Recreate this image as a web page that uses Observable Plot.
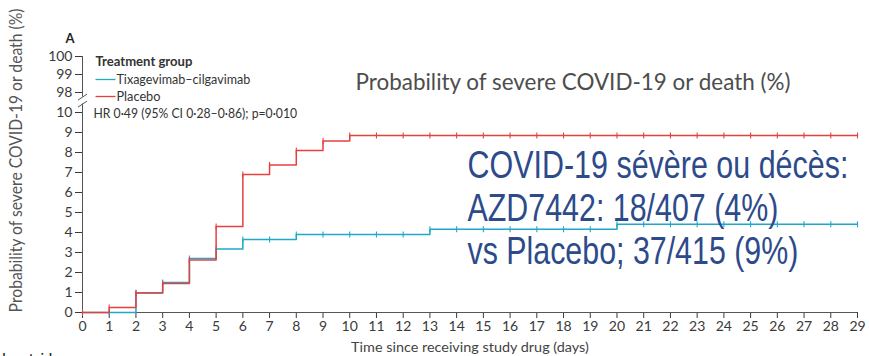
<!DOCTYPE html>
<html>
<head>
<meta charset="utf-8">
<script src="https://cdn.jsdelivr.net/npm/d3@7"></script>
<script src="https://cdn.jsdelivr.net/npm/@observablehq/plot@0.6"></script>
<style>
html, body { margin: 0; padding: 0; background: #fff; overflow: hidden; }
#chart svg { display: block; }
</style>
</head>
<body>
<div id="chart"></div>
<script>
// ---------------- data ----------------
const days = [0,1,2,3,4,5,6,7,8,9,10,11,12,13,14,15,16,17,18,19,20,21,22,23,24,25,26,27,28,29];
const tixagevimab = [0,0,0.99,1.50,2.70,3.18,3.65,3.65,3.90,3.90,3.90,3.90,3.90,4.16,4.16,4.16,4.16,4.16,4.16,4.16,4.41,4.41,4.41,4.41,4.41,4.41,4.41,4.41,4.41,4.41];
const placebo     = [0,0.25,0.97,1.45,2.63,4.30,6.90,7.38,8.10,8.58,8.85,8.85,8.85,8.85,8.85,8.85,8.85,8.85,8.85,8.85,8.85,8.85,8.85,8.85,8.85,8.85,8.85,8.85,8.85,8.85];
const groups = ["Tixagevimab–cilgavimab", "Placebo"];
const yLowerTicks = [0,1,2,3,4,5,6,7,8,9,10];
const yUpperTicks = [98,99,100];
const legendTitle = "Treatment group";
const hrText = "HR 0·49 (95% CI 0·28–0·86); p=0·010";
const panelLabel = "A";
const yTitle = "Probability of severe COVID-19 or death (%)";
const xTitle = "Time since receiving study drug (days)";
const overlayTitle = "Probability of severe COVID-19 or death (%)";
const noteLines = ["COVID-19 sévère ou décès:", "AZD7442: 18/407 (4%)", "vs Placebo; 37/415 (9%)"];
const atRisk = "Number at risk";

// ---------------- styling ----------------
const colors = {"Tixagevimab–cilgavimab": "#1fa8c9", "Placebo": "#e5413f"};
const axisColor = "#555";
const blueText = "#2d4a8a";

// broken y axis: values above the break (98–100) are placed just above 10
const yPos = v => v <= 10 ? v : 11.0 + (v - 98) * 0.9;
const yTicks = [...yLowerTicks, ...yUpperTicks].map(yPos);
const yLabels = [...yLowerTicks, ...yUpperTicks].map(String);
const breakLow = 10.42, breakHigh = 10.77;

const rows = g => days.map((d, i) => ({day: d, value: (g === "Placebo" ? placebo : tixagevimab)[i], group: g}));
const tixRows = rows(groups[0]);
const plaRows = rows(groups[1]);

const vTick = {draw(ctx, size) { const r = Math.sqrt(size / Math.PI); ctx.moveTo(0, -r); ctx.lineTo(0, r); }};
const hLine = {draw(ctx, size) { const r = Math.sqrt(size / Math.PI); ctx.moveTo(-r, 0); ctx.lineTo(r, 0); }};

const breakMarks = [breakLow, breakHigh].map(b => ({x1: -0.17, x2: 0.17, y1: b - 0.15, y2: b + 0.15}));

const chart = Plot.plot({
  width: 869,
  height: 356,
  marginLeft: 82,
  marginRight: 12,
  marginTop: 56,
  marginBottom: 44,
  style: {fontFamily: "Lato, sans-serif", fontSize: "14px", color: "#3a3a3a", background: "white", overflow: "visible"},
  x: {domain: [0, 29], ticks: days, tickSize: 6, tickPadding: 3, label: null},
  y: {domain: [0, yPos(100)], ticks: yTicks, tickFormat: d => yLabels[yTicks.indexOf(d)], tickSize: 7, tickPadding: 3, label: null},
  marks: [
    Plot.ruleY([0], {stroke: axisColor, strokeWidth: 1}),
    Plot.ruleX([0], {y1: 0, y2: breakLow, stroke: axisColor, strokeWidth: 1}),
    Plot.ruleX([0], {y1: breakHigh, y2: yPos(100), stroke: axisColor, strokeWidth: 1}),
    Plot.link(breakMarks, {x1: "x1", x2: "x2", y1: "y1", y2: "y2", stroke: axisColor, strokeWidth: 1}),
    Plot.line(tixRows, {x: "day", y: "value", curve: "step-after", stroke: colors[groups[0]], strokeWidth: 1.5}),
    Plot.dot(tixRows, {x: "day", y: "value", symbol: vTick, r: 3, stroke: colors[groups[0]], fill: "none", strokeWidth: 1.1}),
    Plot.line(plaRows, {x: "day", y: "value", curve: "step-after", stroke: colors[groups[1]], strokeWidth: 1.5}),
    Plot.dot(plaRows, {x: "day", y: "value", symbol: vTick, r: 3, stroke: colors[groups[1]], fill: "none", strokeWidth: 1.1}),
    // legend
    Plot.text([legendTitle], {text: d => d, frameAnchor: "top-left", dx: 13, dy: 5, textAnchor: "start", lineAnchor: "middle", fontWeight: "bold", fontSize: 12.5, fill: "#333"}),
    ...groups.map((g, i) => Plot.dot([g], {frameAnchor: "top-left", dx: 23, dy: 23 + 17 * i, symbol: hLine, r: 10, stroke: colors[g], strokeWidth: 1.3})),
    ...groups.map((g, i) => Plot.text([g], {text: d => d, frameAnchor: "top-left", dx: 34, dy: 23 + 17 * i, textAnchor: "start", lineAnchor: "middle", fontSize: 13, fill: "#333"})),
    Plot.text([hrText], {text: d => d, frameAnchor: "top-left", dx: 11, dy: 57, textAnchor: "start", lineAnchor: "middle", fontSize: 13, fill: "#333"}),
    Plot.text([panelLabel], {text: d => d, frameAnchor: "top-left", dx: -17, dy: -14, textAnchor: "start", lineAnchor: "bottom", fontWeight: "bold", fontSize: 13, fill: "#222"}),
    // axis titles
    Plot.text([yTitle], {text: d => d, frameAnchor: "left", dx: -61, dy: -24, rotate: -90, textAnchor: "middle", lineAnchor: "bottom", fontSize: 17, fill: "#555"}),
    Plot.text([xTitle], {text: d => d, frameAnchor: "bottom", dy: 39, textAnchor: "middle", lineAnchor: "bottom", fontSize: 13, fill: "#444"}),
    Plot.text([atRisk], {text: d => d, frameAnchor: "bottom-left", dx: -27, dy: 49, textAnchor: "end", lineAnchor: "bottom", fontWeight: "bold", fontSize: 12, fill: "#222"}),
    // overlay annotations
    Plot.text([overlayTitle], {text: d => d, frameAnchor: "top-left", dx: 273, dy: 33, textAnchor: "start", lineAnchor: "bottom", fontSize: 23, fill: "#4d4d4d"}),
    ...noteLines.map((t, i) => Plot.text([t], {text: d => d, frameAnchor: "top-left", dx: 385, dy: 121 + 43 * i, textAnchor: "start", lineAnchor: "bottom", fontFamily: "'Liberation Sans', Arial, sans-serif", fontSize: 39, fill: blueText}))
  ]
});

document.getElementById("chart").appendChild(chart);

const svg = chart.tagName.toLowerCase() === "svg" ? chart : chart.querySelector("svg");

// axis tick labels
for (const t of svg.querySelectorAll('g[aria-label^="x-axis"] text, g[aria-label^="y-axis"] text')) {
  t.style.fontSize = "14px";
}

// fit text widths to the reference (condensed typefaces)
const targetWidths = new Map([
  [legendTitle, 97],
  [groups[0], 134],
  [groups[1], 44],
  [hrText, 204],
  [xTitle, 238],
  [overlayTitle, 435],
  [noteLines[0], 381],
  [noteLines[1], 311],
  [noteLines[2], 331]
]);
for (const t of svg.querySelectorAll("text")) {
  const s = t.textContent;
  const tr = t.getAttribute("transform") || "";
  let target = targetWidths.get(s);
  if (s === yTitle && tr.includes("rotate")) target = 304;
  if (target) {
    const w = t.getBBox().width;
    if (w > 0) t.setAttribute("transform", tr + ` scale(${target / w},1)`);
  }
}
</script>
</body>
</html>
